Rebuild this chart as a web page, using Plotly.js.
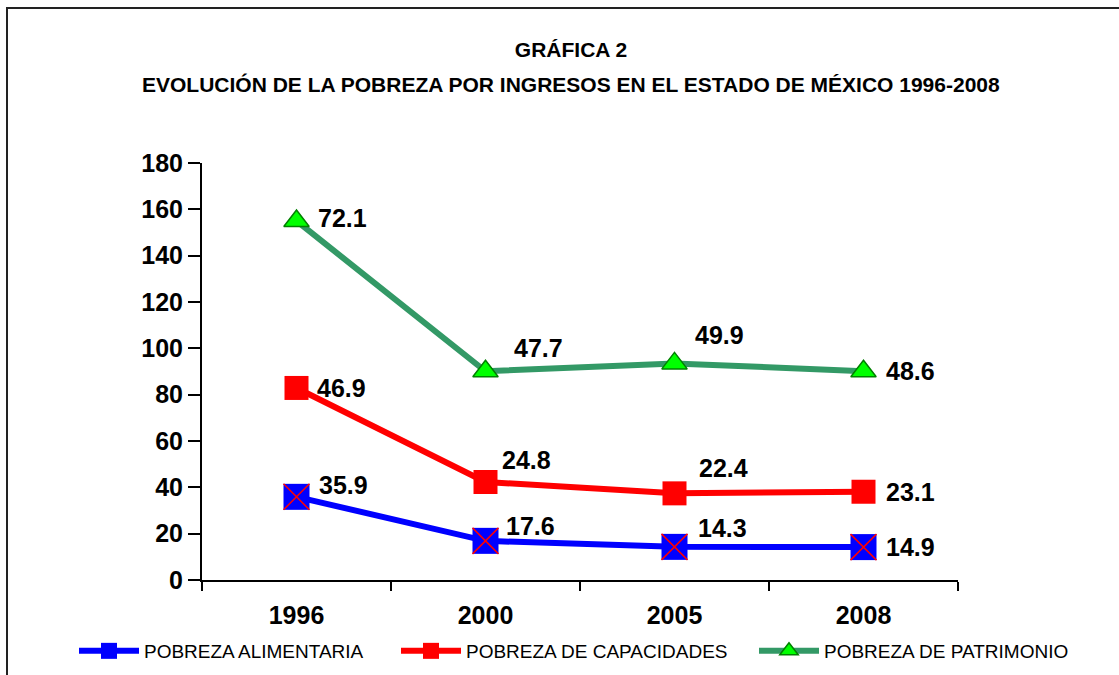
<!DOCTYPE html>
<html>
<head>
<meta charset="utf-8">
<script src="https://cdn.plot.ly/plotly-3.0.1.min.js"></script>
<style>
html,body{margin:0;padding:0;background:#fff;}
#wrap{position:relative;width:1119px;height:675px;overflow:hidden;}
#chart{position:absolute;left:0;top:0;width:1119px;height:675px;}
#frame{position:absolute;left:6px;top:7px;width:1200px;height:800px;border-top:2px solid #222;border-left:2px solid #222;pointer-events:none;}
</style>
</head>
<body>
<div id="wrap"><div id="chart"></div><div id="frame"></div></div>
<script>
// Categories
const years = ['1996', '2000', '2005', '2008'];
// Plotted positions
const alimentaria = [35.9, 16.9, 14.3, 14.2];
const capacidades = [82.9, 42.3, 37.4, 38.1];
const patrimonio  = [155.0, 90.1, 93.5, 90.1];
// Data labels shown on the chart
const lblAlimentaria = ['35.9', '17.6', '14.3', '14.9'];
const lblCapacidades = ['46.9', '24.8', '22.4', '23.1'];
const lblPatrimonio  = ['72.1', '47.7', '49.9', '48.6'];
// Series names
const names = ['POBREZA ALIMENTARIA', 'POBREZA DE CAPACIDADES', 'POBREZA DE PATRIMONIO'];
const yTicks = [0, 20, 40, 60, 80, 100, 120, 140, 160, 180];

// label offsets (style)
const shiftX = {a: [20, 18, 21, 20], c: [18, 14, 22, 20], p: [19, 26, 18, 20]};
const shiftY = {a: [12, 15, 19, 0], c: [0, 22, 25, 0], p: [3, 23, 28, 0]};

const FONT = 'Liberation Sans, Arial, sans-serif';

const traces = [
  {
    x: years, y: alimentaria, name: names[0], type: 'scatter', mode: 'lines+markers',
    legend: 'legend',
    line: {color: '#0000FF', width: 6},
    marker: {symbol: 'square', size: 26, color: '#0000FF', line: {width: 0}}
  },
  {
    x: years, y: alimentaria, name: names[0], type: 'scatter', mode: 'markers',
    showlegend: false, hoverinfo: 'skip',
    marker: {symbol: 'x-thin-open', size: 26, color: '#FF0000', line: {width: 1.5, color: '#FF0000'}}
  },
  {
    x: years, y: capacidades, name: names[1], type: 'scatter', mode: 'lines+markers',
    legend: 'legend2',
    line: {color: '#FF0000', width: 6},
    marker: {symbol: 'square', size: 24, color: '#FF0000', line: {width: 0}}
  },
  {
    x: years, y: patrimonio, name: names[2], type: 'scatter', mode: 'lines+markers',
    legend: 'legend3',
    line: {color: '#339966', width: 6},
    marker: {symbol: 'triangle-up', size: 22, color: '#00FF00', line: {width: 1.5, color: '#008000'}}
  }
];

const annotations = [];
function addLabels(vals, lbls, key) {
  for (let i = 0; i < years.length; i++) {
    annotations.push({
      x: i, y: vals[i], xref: 'x', yref: 'y', text: lbls[i], showarrow: false,
      xanchor: 'left', yanchor: 'middle', xshift: shiftX[key][i], yshift: shiftY[key][i],
      font: {family: FONT, size: 25, weight: 'bold', color: '#000'}
    });
  }
}
addLabels(alimentaria, lblAlimentaria, 'a');
addLabels(capacidades, lblCapacidades, 'c');
addLabels(patrimonio, lblPatrimonio, 'p');

annotations.push({
  xref: 'paper', yref: 'paper', x: 0.488, y: (580 - 84) / 417, xanchor: 'center', yanchor: 'middle',
  text: 'EVOLUCIÓN DE LA POBREZA POR INGRESOS EN EL ESTADO DE MÉXICO 1996-2008',
  showarrow: false, font: {family: FONT, size: 21, weight: 'bold', color: '#000'}
});

function legendAt(px) {
  return {
    orientation: 'h', xref: 'container', yref: 'container',
    x: px / 1119, y: 1 - 651 / 675, xanchor: 'left', yanchor: 'middle',
    font: {family: FONT, size: 19, color: '#000'}, bgcolor: 'rgba(0,0,0,0)',
    itemwidth: 60, tracegroupgap: 0
  };
}

const layout = {
  width: 1119, height: 675, autosize: false,
  paper_bgcolor: '#fff', plot_bgcolor: '#fff',
  margin: {l: 202, r: 161, t: 163, b: 95, pad: 0},
  title: {
    text: 'GRÁFICA 2', xref: 'container', yref: 'container', x: 0.5103, y: 1 - 50 / 675,
    xanchor: 'center', yanchor: 'middle',
    font: {family: FONT, size: 21, weight: 'bold', color: '#000'}
  },
  showlegend: true,
  legend: legendAt(74),
  legend2: legendAt(396),
  legend3: legendAt(754),
  xaxis: {
    type: 'category', range: [-0.5, 3.5], tickson: 'boundaries',
    ticks: 'outside', ticklen: 9, tickwidth: 2, tickcolor: '#000',
    showline: true, linewidth: 2, linecolor: '#000', showgrid: false, zeroline: false,
    ticklabelstandoff: 12,
    tickfont: {family: FONT, size: 25, weight: 'bold', color: '#000'}
  },
  yaxis: {
    range: [0, 180], tickmode: 'array', tickvals: yTicks, ticktext: yTicks.map(String),
    ticks: 'outside', ticklen: 12, tickwidth: 2, tickcolor: '#000',
    showline: true, linewidth: 2, linecolor: '#000', showgrid: false, zeroline: false,
    ticklabelstandoff: 0,
    tickfont: {family: FONT, size: 25, weight: 'bold', color: '#000'}
  },
  annotations: annotations
};

Plotly.newPlot('chart', traces, layout, {displayModeBar: false, staticPlot: true});
</script>
</body>
</html>
